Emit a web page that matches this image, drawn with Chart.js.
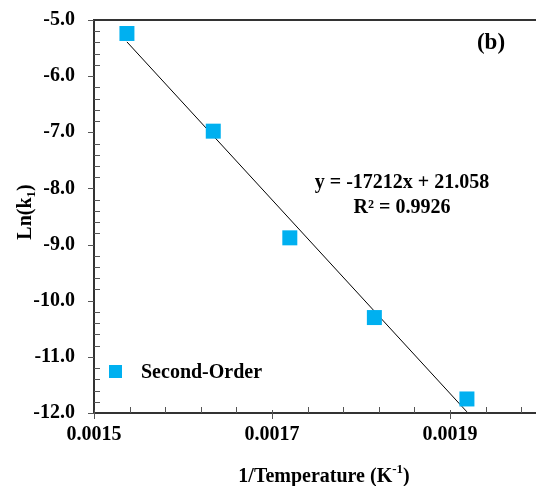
<!DOCTYPE html>
<html><head><meta charset="utf-8">
<script src="https://cdn.jsdelivr.net/npm/chart.js@4.4.0/dist/chart.umd.min.js"></script>
<style>html,body{margin:0;padding:0;background:#fff;overflow:hidden;} #wrap{width:536px;height:486px;position:relative;}</style>
</head><body><div id="wrap"><canvas id="c" width="536" height="486"></canvas></div>
<script>
const seriesName = 'Second-Order';
const invTemp = [0.001537, 0.001634, 0.001720, 0.001815, 0.001919];
const lnK = [-5.24, -6.98, -8.88, -10.30, -11.75];
const trendX = [0.001537, 0.001919];
const trendY = [-5.39, -11.98];
const xTicks = [0.0015, 0.0017, 0.0019];
const yTicks = [-5, -6, -7, -8, -9, -10, -11, -12];
const equationLines = ['y = -17212x + 21.058', 'R\u00B2 = 0.9926'];
const panelLabel = '(b)';
const xTitle = ['1/Temperature (K', '-1', ')'];
const yTitle = ['Ln(k', '1', ')'];

const FONT = "'Liberation Serif', 'Times New Roman', serif";
const CYAN = '#00B0F0';

const decor = {
  id: 'decor',
  afterDraw(chart) {
    const ctx = chart.ctx;
    const ca = chart.chartArea;
    const xs = chart.scales.x, ys = chart.scales.y;
    ctx.save();
    ctx.strokeStyle = '#333';
    ctx.lineWidth = 2;
    ctx.beginPath(); ctx.moveTo(ca.left - 1, ca.top); ctx.lineTo(ca.right, ca.top); ctx.stroke();
    ctx.strokeStyle = '#555';
    ctx.lineWidth = 1;
    const xmax = xs.max;
    for (let i = 0; ; i++) {
      const v = xTicks[0] + i * (xTicks[1] - xTicks[0]) / 5;
      if (v > xmax + 1e-9) break;
      const px = Math.round(xs.getPixelForValue(v)) + 0.5;
      const major = i % 5 === 0;
      ctx.beginPath();
      if (major) { ctx.moveTo(px, ca.bottom - 3); ctx.lineTo(px, ca.bottom + 6); }
      else { ctx.moveTo(px, ca.bottom - 6); ctx.lineTo(px, ca.bottom); }
      ctx.stroke();
    }
    for (let i = 0; i <= 35; i++) {
      const v = yTicks[0] - i * 0.2;
      const py = Math.round(ys.getPixelForValue(v)) + 0.5;
      const major = i % 5 === 0;
      ctx.beginPath();
      if (major) { ctx.moveTo(ca.left - 6, py); ctx.lineTo(ca.left, py); }
      else { ctx.moveTo(ca.left, py); ctx.lineTo(ca.left + 6, py); }
      ctx.stroke();
    }
    ctx.fillStyle = '#000';
    ctx.textBaseline = 'alphabetic';
    ctx.font = 'bold 23px ' + FONT;
    ctx.textAlign = 'center';
    ctx.fillText(panelLabel, 491, 49);
    ctx.font = 'bold 20px ' + FONT;
    ctx.fillText(equationLines[0], 402, 188);
    ctx.fillText(equationLines[1], 402, 213);
    ctx.fillStyle = CYAN;
    ctx.fillRect(109, 365, 13, 13);
    ctx.fillStyle = '#000';
    ctx.textAlign = 'left';
    ctx.font = 'bold 20px ' + FONT;
    ctx.fillText(seriesName, 141, 378);
    const f = 'bold 20px ' + FONT, fs = 'bold 13px ' + FONT;
    ctx.font = f; const w0 = ctx.measureText(xTitle[0]).width;
    ctx.font = fs; const w1 = ctx.measureText(xTitle[1]).width;
    ctx.font = f; const w2 = ctx.measureText(xTitle[2]).width;
    let sx = 324 - (w0 + w1 + w2) / 2;
    ctx.font = f; ctx.fillText(xTitle[0], sx, 482);
    ctx.font = fs; ctx.fillText(xTitle[1], sx + w0, 473);
    ctx.font = f; ctx.fillText(xTitle[2], sx + w0 + w1, 482);
    ctx.save();
    ctx.translate(31, 212);
    ctx.rotate(-Math.PI / 2);
    ctx.font = f; const a0 = ctx.measureText(yTitle[0]).width;
    ctx.font = fs; const a1 = ctx.measureText(yTitle[1]).width;
    ctx.font = f; const a2 = ctx.measureText(yTitle[2]).width;
    let sy = -(a0 + a1 + a2) / 2;
    ctx.font = f; ctx.fillText(yTitle[0], sy, 0);
    ctx.font = fs; ctx.fillText(yTitle[1], sy + a0, 4);
    ctx.font = f; ctx.fillText(yTitle[2], sy + a0 + a1, 0);
    ctx.restore();
    ctx.restore();
  }
};

new Chart(document.getElementById('c'), {
  type: 'scatter',
  data: {
    datasets: [
      {
        label: 'Trend',
        data: trendX.map((x, i) => ({x, y: trendY[i]})),
        showLine: true,
        borderColor: '#000',
        borderWidth: 1,
        pointRadius: 0,
        fill: false,
        order: 2
      },
      {
        label: seriesName,
        data: invTemp.map((x, i) => ({x, y: lnK[i]})),
        pointStyle: 'rect',
        pointRadius: 10.6,
        pointHoverRadius: 10.6,
        backgroundColor: CYAN,
        borderWidth: 0,
        order: 1
      }
    ]
  },
  options: {
    responsive: false,
    devicePixelRatio: 1,
    animation: false,
    events: [],
    layout: { autoPadding: false, padding: { top: 20, right: 0, left: 0, bottom: 0 } },
    plugins: { legend: { display: false }, tooltip: { enabled: false } },
    scales: {
      x: {
        type: 'linear',
        min: 0.0015,
        max: 0.0019966,
        afterBuildTicks: s => { s.ticks = xTicks.map(v => ({value: v})); },
        afterFit: s => { s.height = 73; s.paddingLeft = 0; s.paddingRight = 0; },
        grid: { display: false, drawTicks: false },
        border: { display: true, color: '#333', width: 2 },
        ticks: {
          padding: 10,
          color: '#000',
          font: { family: FONT, size: 20, weight: 'bold' },
          maxRotation: 0,
          autoSkip: false,
          callback: v => Number(v).toFixed(4)
        }
      },
      y: {
        type: 'linear',
        min: -12,
        max: -5,
        afterBuildTicks: s => { s.ticks = yTicks.map(v => ({value: v})); },
        afterFit: s => { s.width = 94; s.paddingTop = 0; s.paddingBottom = 0; },
        grid: { display: false, drawTicks: false },
        border: { display: true, color: '#333', width: 2 },
        ticks: {
          padding: 19,
          color: '#000',
          font: { family: FONT, size: 20, weight: 'bold' },
          callback: v => Number(v).toFixed(1)
        }
      }
    }
  },
  plugins: [decor]
});
</script>
</body></html>
